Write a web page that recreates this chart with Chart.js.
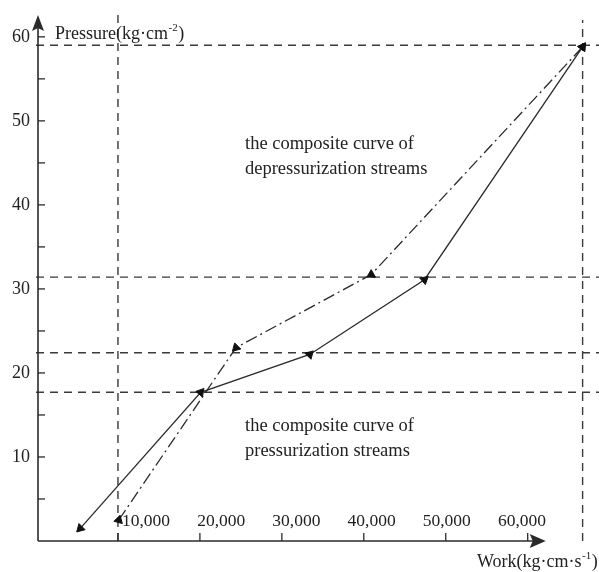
<!DOCTYPE html>
<html>
<head>
<meta charset="utf-8">
<script src="https://cdn.jsdelivr.net/npm/chart.js@4.4.1/dist/chart.umd.min.js"></script>
<style>
  html, body { margin: 0; padding: 0; background: #fff; overflow: hidden; }
  #wrap { width: 599px; height: 572px; position: relative; }
  #wrap canvas { display: block; }
</style>
</head>
<body>
<div id="wrap"><canvas id="workChart"></canvas></div>
<script>
// composite curve of pressurization streams (solid line)
const pressWork = [5400, 20100, 33400, 47400, 66700];
const pressPressure = [1.5, 17.7, 22.2, 31.1, 58.8];
// composite curve of depressurization streams (dash-dot line)
const depressWork = [10100, 24400, 40900, 66700];
const depressPressure = [2.5, 23.0, 31.7, 58.8];
// dashed guide lines
const guidePressures = [59.0, 31.4, 22.4, 17.7];
const guideWorks = [10000, 66700];
const guideWorkTops = [62.6, 62.0];
// axis ticks
const workTicks = [10000, 20000, 30000, 40000, 50000, 60000];
const workTickLabels = ['10,000', '20,000', '30,000', '40,000', '50,000', '60,000'];
const pressureTicks = [10, 20, 30, 40, 50, 60];

const X_MAX = 68700;
const Y_MAX = 62.6;
const FONT = '"Liberation Serif", "Times New Roman", serif';
const INK = '#2a2a2a';

function toPoints(xs, ys) {
    return xs.map((x, i) => ({ x: x, y: ys[i] }));
}

const datasets = [
    {
        label: 'pressurization',
        data: toPoints(pressWork, pressPressure),
        showLine: true,
        borderColor: INK,
        borderWidth: 1.3,
        pointStyle: 'triangle',
        pointRadius: 5,
        pointBorderWidth: 1,
        pointBackgroundColor: '#111',
        pointBorderColor: '#111',
        pointRotation: [225, 40, 165, 170, 35],
        xAxisID: 'x', yAxisID: 'y'
    },
    {
        label: 'depressurization',
        data: toPoints(depressWork, depressPressure),
        showLine: true,
        borderColor: INK,
        borderWidth: 1.3,
        borderDash: [12, 4, 2, 4],
        pointStyle: 'triangle',
        pointRadius: 5,
        pointBorderWidth: 1,
        pointBackgroundColor: '#111',
        pointBorderColor: '#111',
        pointRotation: [15, -15, 0, 35],
        xAxisID: 'x', yAxisID: 'y'
    }
];

// horizontal guides
guidePressures.forEach(p => {
    datasets.push({
        label: 'guide', data: [{ x: 0, y: p }, { x: X_MAX, y: p }],
        showLine: true, borderColor: '#3a3a3a', borderWidth: 1.4, borderDash: [8, 6],
        pointRadius: 0, xAxisID: 'x', yAxisID: 'y'
    });
});
// vertical guides
guideWorks.forEach((w, i) => {
    datasets.push({
        label: 'guide', data: [{ x: w, y: 0 }, { x: w, y: guideWorkTops[i] }],
        showLine: true, borderColor: '#3a3a3a', borderWidth: 1.4, borderDash: [8, 6],
        pointRadius: 0, xAxisID: 'x', yAxisID: 'y'
    });
});

// text with a raised exponent, e.g. kg·cm^-2
function drawWithSup(ctx, x, y, base, sup, tail) {
    ctx.font = '18px ' + FONT;
    ctx.fillText(base, x, y);
    let w = ctx.measureText(base).width;
    ctx.font = '11px ' + FONT;
    ctx.fillText(sup, x + w + 0.5, y - 8);
    w += ctx.measureText(sup).width + 1;
    ctx.font = '18px ' + FONT;
    ctx.fillText(tail, x + w, y);
}

const axesAndNotes = {
    id: 'axesAndNotes',
    afterDraw(chart) {
        const { ctx, chartArea: a } = chart;
        const x = chart.scales.x, y = chart.scales.y;
        const ox = a.left + 2;
        const oy = y.getPixelForValue(0);
        ctx.save();
        ctx.strokeStyle = INK;
        ctx.fillStyle = INK;
        ctx.lineWidth = 1.6;

        // y axis with arrow
        ctx.beginPath();
        ctx.moveTo(ox, oy);
        ctx.lineTo(ox, a.top + 10);
        ctx.stroke();
        ctx.beginPath();
        ctx.moveTo(ox, a.top);
        ctx.lineTo(ox - 6, a.top + 16);
        ctx.lineTo(ox, a.top + 13);
        ctx.lineTo(ox + 6, a.top + 16);
        ctx.closePath();
        ctx.fill();

        // x axis with arrow
        const ex = x.getPixelForValue(62200);
        ctx.beginPath();
        ctx.moveTo(ox, oy);
        ctx.lineTo(ex - 10, oy);
        ctx.stroke();
        ctx.beginPath();
        ctx.moveTo(ex, oy);
        ctx.lineTo(ex - 16, oy - 7);
        ctx.lineTo(ex - 13, oy);
        ctx.lineTo(ex - 16, oy + 7);
        ctx.closePath();
        ctx.fill();

        // inward tick marks
        ctx.lineWidth = 1.3;
        y.ticks.forEach(t => {
            if (t.value <= 0) return;
            const py = y.getPixelForValue(t.value);
            ctx.beginPath();
            ctx.moveTo(ox, py);
            ctx.lineTo(ox + 7, py);
            ctx.stroke();
        });
        workTicks.forEach(v => {
            const px = x.getPixelForValue(v);
            ctx.beginPath();
            ctx.moveTo(px, oy);
            ctx.lineTo(px, oy - 8);
            ctx.stroke();
        });

        // axis titles
        ctx.fillStyle = '#222';
        ctx.textBaseline = 'alphabetic';
        ctx.textAlign = 'left';
        drawWithSup(ctx, 55, 39, 'Pressure(kg\u00b7cm', '-2', ')');
        drawWithSup(ctx, 477, 567, 'Work(kg\u00b7cm\u00b7s', '-1', ')');

        // curve notes
        ctx.font = '18.5px ' + FONT;
        ctx.fillText('the composite curve of', 245, 149);
        ctx.fillText('depressurization streams', 245, 174);
        ctx.fillText('the composite curve of', 245, 431);
        ctx.fillText('pressurization streams', 245, 456);
        ctx.restore();
    }
};

new Chart(document.getElementById('workChart'), {
    type: 'scatter',
    data: { datasets: datasets },
    options: {
        responsive: true,
        maintainAspectRatio: false,
        animation: false,
        events: [],
        layout: { autoPadding: false, padding: { top: 15, left: 0, right: 0, bottom: 0 } },
        plugins: { legend: { display: false }, tooltip: { enabled: false } },
        scales: {
            x: { type: 'linear', display: false, min: 0, max: X_MAX },
            // the printed labels sit a little apart from their tick marks,
            // so they live on a second, slightly narrower scale
            xLabels: {
                type: 'linear', position: 'bottom', min: -4628, max: 70239,
                grid: { display: false, drawTicks: false },
                border: { display: false },
                afterBuildTicks: s => { s.ticks = workTicks.map(v => ({ value: v })); },
                ticks: {
                    autoSkip: false, maxRotation: 0,
                    mirror: true, padding: 0, color: '#222',
                    font: { family: FONT, size: 17.5, lineHeight: 2.2 },
                    callback: v => {
                        const i = workTicks.indexOf(v);
                        return i < 0 ? '' : workTickLabels[i];
                    }
                },
                afterFit: s => { s.height = 31; }
            },
            y: {
                type: 'linear', min: 0, max: Y_MAX,
                grid: { display: false, drawTicks: false },
                border: { display: false },
                ticks: {
                    stepSize: 5, includeBounds: false, padding: 6, color: '#222',
                    font: { family: FONT, size: 18, lineHeight: 1 },
                    callback: v => pressureTicks.some(t => Math.abs(t - v) < 1e-6) ? String(v) : ''
                },
                afterFit: s => { s.width = 36; }
            }
        }
    },
    plugins: [axesAndNotes]
});
</script>
</body>
</html>
